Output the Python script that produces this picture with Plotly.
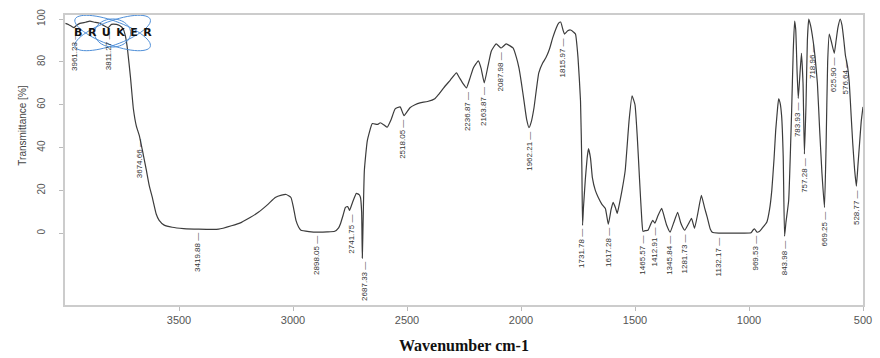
import numpy as np
import plotly.graph_objects as go

# ---- spectrum data (wavenumber cm-1, transmittance %) ----
wavenumber = [3998, 3985, 3970, 3961, 3950, 3935, 3910, 3891, 3870, 3848, 3830, 3811, 3796, 3775, 3761, 3745, 3735, 3726, 3713, 3700,
              3687, 3674, 3661, 3643, 3630, 3617, 3600, 3587, 3565, 3530, 3480, 3413, 3326, 3270, 3226, 3190, 3152, 3110, 3078, 3050,
              3030, 3009, 2998, 2987, 2975, 2965, 2930, 2891, 2850, 2817, 2800, 2791, 2780, 2770, 2760, 2752, 2739, 2722, 2710, 2704,
              2699, 2696, 2692, 2687, 2674, 2652, 2630, 2617, 2600, 2587, 2570, 2552, 2530, 2513, 2487, 2465, 2443, 2410, 2378, 2360,
              2339, 2310, 2283, 2270, 2255, 2239, 2225, 2209, 2187, 2175, 2161, 2145, 2130, 2109, 2087, 2065, 2035, 2020, 2009, 1998,
              1987, 1975, 1965, 1955, 1943, 1922, 1905, 1891, 1875, 1861, 1845, 1835, 1826, 1816, 1809, 1795, 1783, 1770, 1761, 1750,
              1739, 1733, 1730, 1726, 1718, 1710, 1704, 1695, 1687, 1674, 1661, 1645, 1630, 1617, 1605, 1596, 1586, 1578, 1568, 1557,
              1543, 1526, 1513, 1500, 1490, 1480, 1470, 1465, 1455, 1443, 1430, 1422, 1413, 1400, 1383, 1370, 1361, 1346, 1330, 1313,
              1300, 1291, 1282, 1265, 1252, 1239, 1225, 1209, 1195, 1183, 1170, 1161, 1132, 1050, 991, 983, 975, 970, 965, 955,
              943, 922, 910, 900, 890, 883, 875, 870, 864, 857, 850, 844, 838, 826, 813, 806, 800, 795, 789, 784,
              778, 770, 763, 757, 750, 744, 738, 730, 719, 710, 700, 690, 680, 669, 662, 655, 648, 640, 626, 618,
              610, 600, 592, 584, 577, 568, 560, 552, 545, 537, 529, 522, 515, 508, 500]
transmittance = [98, 97.5, 96.5, 96, 97, 98, 98.5, 99, 98.5, 98, 97, 96, 97.5, 97.5, 97, 95.5, 92, 86, 73, 58,
                 50, 45.6, 39, 29.3, 22, 16.7, 9, 6, 3.8, 2.8, 2.2, 1.9, 1.9, 3.5, 5.1, 7.2, 9.8, 13.5, 16.7, 17.8,
                 18.1, 16.7, 12, 6, 2.8, 1.4, 0.8, 0.5, 0.6, 0.9, 2.5, 4.7, 8.5, 12.1, 12.5, 10.7, 14.4, 18.6, 18, 16.7,
                 10, -11.6, 8, 29.3, 43.3, 51.2, 50.8, 51.6, 50.5, 49.5, 53, 58.1, 59, 54.9, 58.6, 60, 60.9, 61.5, 62.8, 65,
                 67.9, 71.5, 74.9, 72.6, 70, 67.9, 72, 77.2, 80.5, 77, 70.2, 78, 85.1, 88.4, 86.5, 88.4, 86.5, 82, 77.2, 70,
                 61.9, 53, 49.3, 52, 58.6, 74.9, 79.5, 81.9, 86, 91.2, 96, 98.1, 98.6, 95, 93, 94.5, 94.9, 94, 93, 82,
                 61.9, 30, 3.7, 12, 25, 35, 39.5, 35, 26, 20, 16.7, 13.5, 11.6, 4.2, 11, 14.4, 12, 9.3, 14, 20,
                 29.3, 52.6, 64.2, 60, 45, 25, 6, 0.9, 1.2, 1.4, 4.5, 6.0, 4.7, 8, 11.6, 7, 3.7, 0.5, 5, 9.8,
                 5, 2.8, 1.4, 4.5, 7.0, 2.3, 9, 17.7, 12, 7.4, 2, 0.5, 0.1, 0.1, 0.2, 1.4, 2.0, 1.2, 0.5, 0.8,
                 2.3, 5.1, 11, 20, 35, 47.9, 58, 62.8, 61, 54.9, 36, -1.4, 5, 15.3, 57.2, 85, 99, 95, 75, 63,
                 72, 84, 70, 37, 60, 90, 100, 97, 90, 82, 70, 48, 28, 12, 40, 80, 93, 90, 84, 90,
                 96, 100, 97, 90, 83, 78, 70, 55, 42, 30, 22, 32, 42, 52, 59]

# ---- peak labels ----
peak_labels = ["3961.23", "3811.27", "3674.66", "3419.88", "2898.05", "2741.75", "2687.33", "2518.05",
               "2236.87", "2163.87", "2087.98", "1962.21", "1815.97", "1731.78", "1617.28", "1465.57",
               "1412.91", "1345.84", "1281.73", "1132.17", "969.53", "843.98", "783.93", "757.28",
               "718.96", "669.25", "625.90", "576.64", "528.77"]
peak_T = [96, 96, 45.6, 1.9, 0.5, 10.7, -11.6, 55,
          68, 70.2, 86.5, 49.3, 93, 3.7, 4.2, 0.9,
          4.7, 0.5, 1.4, 0.1, 1.0, -1.4, 63, 37,
          90, 12, 84, 83, 22]

x_ticks = [3500, 3000, 2500, 2000, 1500, 1000, 500]
y_ticks = [0, 20, 40, 60, 80, 100]

fig = go.Figure()
fig.add_trace(go.Scatter(x=wavenumber, y=transmittance, mode="lines",
                         line=dict(color="#3c3c3c", width=1.2, shape="spline", smoothing=0.4),
                         hoverinfo="skip", showlegend=False))

annotations = []
for lab, t in zip(peak_labels, peak_T):
    annotations.append(dict(x=float(lab), y=t, xref="x", yref="y", text=lab + " \u2014",
                            textangle=-90, showarrow=False, yanchor="top", xanchor="center",
                            yshift=-2, font=dict(family="Liberation Sans", size=8, color="#333333")))

# y axis title
annotations.append(dict(x=0, xref="paper", xshift=-50, y=50, yref="y", text="Transmittance [%]",
                        textangle=-90, showarrow=False, font=dict(family="Liberation Sans", size=10, color="#444444")))
# x axis title
annotations.append(dict(x=0.5, xref="paper", y=-0.138, yref="paper", text="<b>Wavenumber cm-1</b>",
                        showarrow=False, yanchor="middle",
                        font=dict(family="Liberation Serif", size=16, color="#111111")))
# logo text
annotations.append(dict(x=3791, y=93.5, xref="x", yref="y", text="<b>B\u2002R\u2002U\u2002K\u2002E\u2002R</b>",
                        showarrow=False, font=dict(family="DejaVu Sans", size=11, color="#111111")))

# logo orbits (pixel-sized decorative shapes)
shapes = []
th = np.linspace(0, 2 * np.pi, 60)
for ang, a, b in [(20, 40, 12), (-20, 40, 12), (0, 18, 14)]:
    r = np.deg2rad(ang)
    px = a * np.cos(th) * np.cos(r) - b * np.sin(th) * np.sin(r)
    py = a * np.cos(th) * np.sin(r) + b * np.sin(th) * np.cos(r)
    path = "M " + " L ".join(f"{u:.1f},{v:.1f}" for u, v in zip(px, py)) + " Z"
    shapes.append(dict(type="path", xsizemode="pixel", ysizemode="pixel", xanchor=3791, yanchor=93.5,
                       xref="x", yref="y", path=path, line=dict(color="#4f8fd8", width=1)))

fig.update_layout(
    width=880, height=358,
    margin=dict(l=65, r=8, t=15, b=53),
    plot_bgcolor="white", paper_bgcolor="white",
    annotations=annotations, shapes=shapes,
    xaxis=dict(range=[4000, 500], tickvals=x_ticks, ticktext=[str(v) for v in x_ticks],
               showgrid=False, zeroline=False, showline=True, mirror=True, linecolor="#cccccc", linewidth=1.5,
               ticks="outside", ticklen=4, tickcolor="#bbbbbb",
               tickfont=dict(family="Liberation Sans", size=11, color="#555555")),
    yaxis=dict(range=[-33.5, 101.9], tickvals=y_ticks, tickangle=-90,
               showgrid=False, zeroline=False, showline=True, mirror=True, linecolor="#cccccc", linewidth=1.5,
               ticks="outside", ticklen=4, tickcolor="#bbbbbb", ticklabelstandoff=10,
               tickfont=dict(family="Liberation Sans", size=10, color="#555555")),
)

fig.write_html("out.html")
